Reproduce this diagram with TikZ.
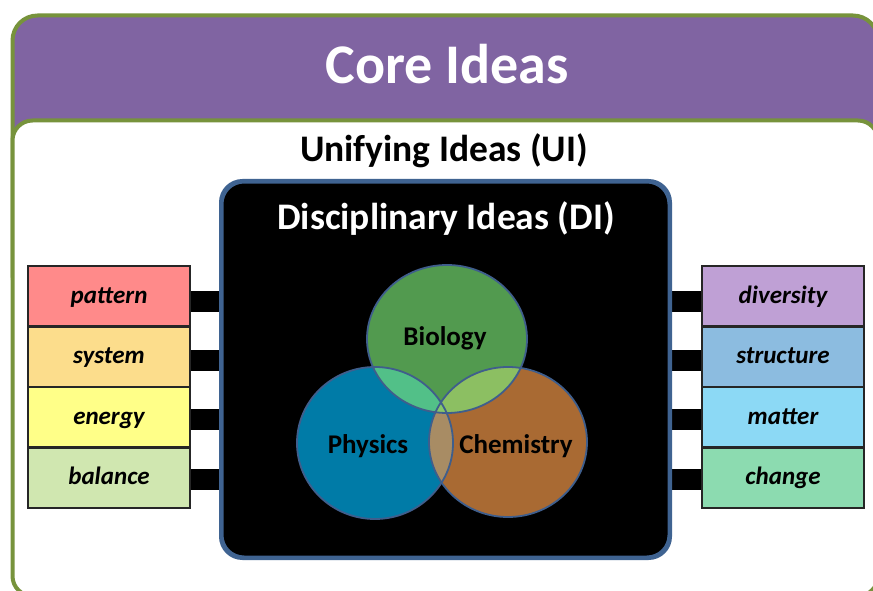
\documentclass[tikz,border=0pt]{standalone}
\usepackage{fontspec}
\setmainfont{Carlito}
\usetikzlibrary{shapes.geometric}
\definecolor{hdrpurple}{HTML}{8064A2}
\definecolor{frgreen}{HTML}{77933C}
\definecolor{diblue}{HTML}{3F6391}
\definecolor{cborder}{HTML}{3F5E8C}
\definecolor{cpat}{HTML}{FF8A8A}
\definecolor{csys}{HTML}{FCDD8C}
\definecolor{cene}{HTML}{FFFF88}
\definecolor{cbal}{HTML}{D0E7B0}
\definecolor{cdiv}{HTML}{BFA0D5}
\definecolor{cstr}{HTML}{8CBCE0}
\definecolor{cmat}{HTML}{8CD9F5}
\definecolor{cchg}{HTML}{8CDBB0}
\definecolor{cphy}{HTML}{007BA7}
\definecolor{cche}{HTML}{A96A33}
\definecolor{cbio}{HTML}{529A4F}
\definecolor{cbp}{HTML}{52C088}
\definecolor{cbc}{HTML}{8CBF62}
\definecolor{cpc}{HTML}{A88C64}
\definecolor{cbpc}{HTML}{86C66A}
\tikzset{
  ideabox/.style={draw=black!85, line width=1.2pt, minimum width=162pt, minimum height=60.5pt,
    inner sep=0pt, text height=14pt, text depth=0pt,
    font=\fontsize{25}{29}\selectfont\bfseries\itshape},
  bar/.style={line width=21pt, black},
  bigtitle/.style={font=\fontsize{56}{64}\selectfont\bfseries, text=white, inner sep=0pt},
  subtitle/.style={font=\fontsize{37.5}{44}\selectfont\bfseries, inner sep=0pt},
  subjlabel/.style={font=\fontsize{27}{32}\selectfont\bfseries, inner sep=0pt},
}
\begin{document}
\begin{tikzpicture}[x=1pt,y=-1pt]
\useasboundingbox (0,0) rectangle (873,591);
% outer frame and header
\draw[frgreen, line width=4pt, fill=hdrpurple, rounded corners=25pt] (12.5,15.5) rectangle (878,300);
\draw[frgreen, line width=4pt, fill=white, rounded corners=20pt] (12.5,120.5) rectangle (878,596);
\node[bigtitle] (core) at (447,64) {Core Ideas};
\node[subtitle] (ui) at (444,151) {Unifying Ideas (UI)};
% disciplinary box
\node[draw=diblue, fill=black, line width=3pt, rounded corners=22pt,
  minimum width=447pt, minimum height=375pt, inner sep=0pt] (di) at (445.5,369.5) {};
\node[subtitle, text=white] (dit) at (446,219) {Disciplinary Ideas (DI)};
% venn
\def\bioE{(447,339) ellipse [x radius=80pt, y radius=74pt]}
\def\phyE{(375,443) ellipse [x radius=78pt, y radius=76pt]}
\def\cheE{(508,442) ellipse [x radius=79pt, y radius=75pt]}
\fill[cphy] \phyE;
\fill[cche] \cheE;
\fill[cbio] \bioE;
\begin{scope}\clip \phyE; \fill[cpc] \cheE; \end{scope}
\begin{scope}\clip \bioE; \fill[cbp] \phyE; \end{scope}
\begin{scope}\clip \bioE; \fill[cbc] \cheE; \end{scope}
\begin{scope}\clip \bioE; \clip \phyE; \fill[cbpc] \cheE; \end{scope}
\draw[cborder, line width=1.8pt] \phyE;
\draw[cborder, line width=1.8pt] \cheE;
\draw[cborder, line width=1.8pt] \bioE;
\node[subjlabel] (bio) at (445,338) {Biology};
\node[subjlabel] (phy) at (368,446) {Physics};
\node[subjlabel] (che) at (516,446) {Chemistry};
% left boxes
\node[ideabox, fill=cpat] (pattern) at (109,296.25) {pattern};
\node[ideabox, fill=csys] (system) at (109,356.75) {system};
\node[ideabox, fill=cene] (energy) at (109,417.25) {energy};
\node[ideabox, fill=cbal] (balance) at (109,477.75) {balance};
% right boxes
\node[ideabox, fill=cdiv] (diversity) at (783,296.25) {diversity};
\node[ideabox, fill=cstr] (structure) at (783,356.75) {structure};
\node[ideabox, fill=cmat] (matter) at (783,417.25) {matter};
\node[ideabox, fill=cchg] (change) at (783,477.75) {change};
% bars
\foreach \b/\s in {pattern/5,system/4,energy/2.5,balance/2,diversity/5,structure/4,matter/2.5,change/2}{
  \coordinate (\b-bar) at ([yshift=-\s pt]\b.center);
}
\draw[bar] (pattern-bar -| pattern.east) -- (pattern-bar -| di.west);
\draw[bar] (system-bar -| system.east) -- (system-bar -| di.west);
\draw[bar] (energy-bar -| energy.east) -- (energy-bar -| di.west);
\draw[bar] (balance-bar -| balance.east) -- (balance-bar -| di.west);
\draw[bar] (diversity-bar -| diversity.west) -- (diversity-bar -| di.east);
\draw[bar] (structure-bar -| structure.west) -- (structure-bar -| di.east);
\draw[bar] (matter-bar -| matter.west) -- (matter-bar -| di.east);
\draw[bar] (change-bar -| change.west) -- (change-bar -| di.east);
% redraw box borders over bars
\foreach \b in {pattern,system,energy,balance,diversity,structure,matter,change}{
  \draw[black!85, line width=1.2pt] (\b.south west) rectangle (\b.north east);
}
\draw[diblue, line width=3pt, rounded corners=22pt] (di.south west) rectangle (di.north east);
\end{tikzpicture}
\end{document}
